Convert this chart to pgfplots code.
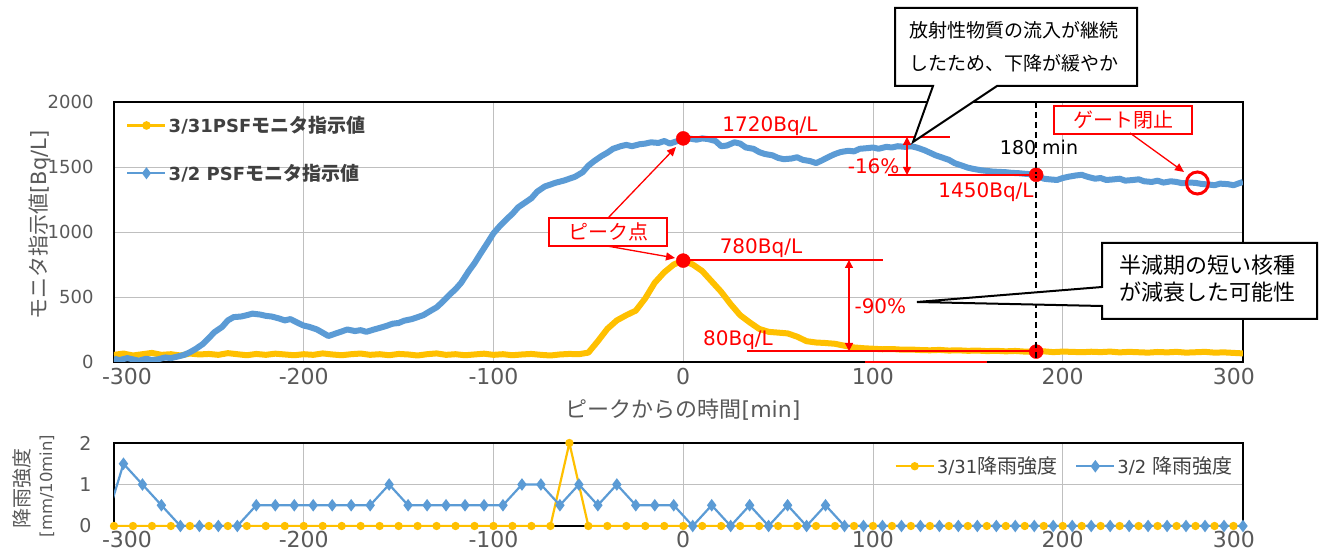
\documentclass[border=0pt]{standalone}
\usepackage{fontspec}
\setmainfont{DejaVu Sans}
\newfontfamily\jp{Noto Sans CJK JP}
\usepackage{pgfplots}
\pgfplotsset{compat=1.18}
\usetikzlibrary{arrows.meta}
\definecolor{yel}{HTML}{FFC000}
\definecolor{blu}{HTML}{5B9BD5}
\definecolor{tickc}{HTML}{595959}
\definecolor{legc}{HTML}{404040}
\definecolor{red0}{HTML}{FF0000}
\newcommand\fsz[1]{\fontsize{#1}{#1}\selectfont}
\pgfplotsset{legend image code/.code={\draw[mark repeat=2,mark phase=2,#1] plot coordinates {(0pt,0pt) (19pt,0pt) (38pt,0pt)};}}
\pgfplotsset{myax/.style={
  scale only axis, width=1129pt,
  xmin=-300, xmax=295,
  xtick={-300,-200,-100,0,100,200,295},
  xticklabels={\hspace*{26pt}-300,-200,-100,0,100,200,300\hspace*{18pt}},
  grid=major, major grid style={draw=gray!50, line width=0.8pt},
  major tick length=0pt,
  axis line style={line width=2.5pt, black},
  tick label style={text=tickc},
  /pgf/number format/assume math mode=true,
  /pgf/number format/1000 sep={},
}}
\begin{document}
\begin{tikzpicture}
\path[use as bounding box] (0,0) rectangle (1328pt,557pt);
% ---------------- top axis
\begin{axis}[myax, at={(114pt,195pt)}, anchor=south west, height=260pt,
  ymin=0, ymax=2000, ytick={0,500,1000,1500,2000},
  xticklabel style={font=\fsz{22}, yshift=-3pt},
  yticklabel style={font=\fsz{18}, xshift=-17pt},
  legend style={at={(0.008,0.96)}, anchor=north west, draw=none, fill=none,
    font=\bfseries\fsz{18}, text=legc, row sep=26pt, cells={anchor=west}},
]
\addlegendimage{yel, line width=2.5pt, mark=*, mark size=3pt}
\addlegendentry{3/31PSF{\jp\bfseries\fsz{19}モニタ指示値}}
\addlegendimage{blu, line width=2.5pt, mark=diamond*, mark size=4pt}
\addlegendentry{3/2 PSF{\jp\bfseries\fsz{19}モニタ指示値}}
\addplot[yel, line width=6pt, line join=round, forget plot] coordinates {
(-300,55) (-295,65) (-290,50) (-285,60) (-280,70) (-275,55) (-270,60) (-265,50) (-260,65) (-255,58)
(-250,62) (-245,55) (-240,68) (-235,60) (-230,52) (-225,62) (-220,55) (-215,64) (-210,58) (-205,52)
(-200,60) (-195,55) (-190,66) (-185,58) (-180,52) (-175,60) (-170,65) (-165,55) (-160,60) (-155,52)
(-150,62) (-145,58) (-140,50) (-135,60) (-130,66) (-125,55) (-120,60) (-115,52) (-110,58) (-105,64)
(-100,55) (-95,60) (-90,52) (-85,58) (-80,62) (-75,55) (-70,50) (-65,58) (-60,62) (-55,60)
(-50,72) (-45,160) (-40,255) (-35,320) (-30,360) (-25,395) (-20,490) (-15,610) (-10,690) (-5,750)
(0,780) (5,750) (10,700) (15,620) (20,540) (25,445) (30,360) (35,305) (40,255) (45,232)
(50,226) (55,220) (60,195) (65,160) (70,150) (75,146) (80,140) (85,125) (90,112) (95,106)
(100,102) (105,98) (110,100) (115,95) (120,96) (125,92) (130,90) (135,93) (140,88) (145,90)
(150,86) (155,88) (160,84) (165,86) (170,82) (175,85) (180,80) (185,78) (190,82) (195,76)
(200,80) (205,78) (210,75) (215,79) (220,76) (225,80) (230,74) (235,78) (240,75) (245,72)
(250,77) (255,74) (260,78) (265,72) (270,75) (275,78) (280,72) (285,74) (290,70) (295,66)};
\addplot[blu, line width=6pt, line join=round, forget plot] coordinates {
(-300,25) (-297,15) (-293,30) (-290,20) (-287,10) (-283,25) (-280,15) (-277,20) (-273,35) (-270,30)
(-267,40) (-263,55) (-260,75) (-257,100) (-253,140) (-250,185) (-247,230) (-243,270) (-240,320) (-237,345)
(-233,350) (-230,360) (-227,372) (-223,365) (-220,355) (-217,350) (-213,335) (-210,320) (-207,330) (-203,300)
(-200,280) (-197,270) (-193,250) (-190,225) (-187,200) (-184,215) (-180,235) (-177,250) (-173,238) (-170,245)
(-167,232) (-163,250) (-160,262) (-157,275) (-153,295) (-150,300) (-147,318) (-143,330) (-140,345) (-137,360)
(-133,395) (-130,420) (-127,460) (-123,520) (-120,560) (-117,610) (-113,700) (-110,760) (-107,830) (-103,920)
(-100,990) (-97,1040) (-93,1100) (-90,1140) (-87,1190) (-83,1230) (-80,1260) (-77,1310) (-73,1350) (-70,1365)
(-67,1380) (-63,1395) (-60,1410) (-57,1425) (-53,1460) (-50,1510) (-47,1545) (-43,1585) (-40,1610) (-37,1640)
(-33,1660) (-30,1670) (-27,1660) (-23,1675) (-20,1680) (-17,1690) (-13,1685) (-10,1700) (-7,1680) (-3,1700)
(0,1715) (3,1720) (7,1710) (10,1720) (13,1715) (17,1700) (20,1660) (23,1665) (27,1690) (30,1680)
(33,1650) (37,1640) (40,1615) (43,1600) (47,1590) (50,1570) (53,1560) (57,1565) (60,1575) (63,1555)
(67,1545) (70,1530) (73,1550) (77,1580) (80,1600) (83,1615) (87,1625) (90,1620) (93,1640) (97,1645)
(100,1650) (103,1640) (107,1655) (110,1650) (113,1660) (117,1655) (120,1660) (123,1650) (127,1630) (130,1610)
(133,1590) (137,1570) (140,1555) (143,1530) (147,1510) (150,1495) (153,1485) (157,1475) (160,1470) (163,1465)
(167,1462) (170,1460) (173,1455) (177,1452) (180,1448) (183,1445) (187,1430) (190,1410) (193,1405) (197,1400)
(200,1415) (203,1425) (207,1435) (210,1440) (213,1425) (217,1410) (220,1415) (223,1400) (227,1405) (230,1410)
(233,1395) (237,1400) (240,1405) (243,1390) (247,1385) (250,1395) (253,1380) (257,1390) (260,1385) (263,1375)
(267,1380) (270,1378) (273,1370) (277,1365) (280,1360) (283,1372) (287,1368) (290,1360) (293,1375) (295,1385)};
\addplot[only marks, mark=*, mark size=7pt, red0, forget plot] coordinates {(0,1720) (0,780) (186,1440) (186,80)};
\addplot[only marks, mark=o, mark size=11pt, red0, line width=3pt, forget plot] coordinates {(271,1377)};
\end{axis}
% ---------------- bottom axis
\begin{axis}[myax, at={(114pt,31pt)}, anchor=south west, height=83pt,
  ymin=0, ymax=2, ytick={0,1,2},
  xticklabel style={font=\fsz{22}, yshift=-2pt},
  yticklabel style={font=\fsz{19}, xshift=-19pt},
  legend style={at={(0.995,0.72)}, anchor=east, draw=none, fill=none, legend columns=2,
    font=\fsz{18}, text=legc, /tikz/every even column/.append style={column sep=16pt}},
]
\addplot[yel, line width=2.2pt, mark=*, mark size=3pt] coordinates {
(-300,0) (-290,0) (-280,0) (-270,0) (-260,0) (-250,0) (-240,0) (-230,0) (-220,0) (-210,0)
(-200,0) (-190,0) (-180,0) (-170,0) (-160,0) (-150,0) (-140,0) (-130,0) (-120,0) (-110,0)
(-100,0) (-90,0) (-80,0) (-70,0) (-60,2) (-50,0) (-40,0) (-30,0) (-20,0) (-10,0)
(0,0) (10,0) (20,0) (30,0) (40,0) (50,0) (60,0) (70,0) (80,0) (90,0)
(100,0) (110,0) (120,0) (130,0) (140,0) (150,0) (160,0) (170,0) (180,0) (190,0)
(200,0) (210,0) (220,0) (230,0) (240,0) (250,0) (260,0) (270,0) (280,0) (290,0)};
\addlegendentry{3/31{\jp\fsz{20}降雨強度}}
\addplot[blu, line width=2.2pt, mark=diamond*, mark size=4.5pt] coordinates {
(-305,0) (-295,1.5) (-285,1) (-275,0.5) (-265,0) (-255,0) (-245,0) (-235,0) (-225,0.5) (-215,0.5)
(-205,0.5) (-195,0.5) (-185,0.5) (-175,0.5) (-165,0.5) (-155,1) (-145,0.5) (-135,0.5) (-125,0.5) (-115,0.5)
(-105,0.5) (-95,0.5) (-85,1) (-75,1) (-65,0.5) (-55,1) (-45,0.5) (-35,1) (-25,0.5) (-15,0.5)
(-5,0.5) (5,0) (15,0.5) (25,0) (35,0.5) (45,0) (55,0.5) (65,0) (75,0.5) (85,0)
(95,0) (105,0) (115,0) (125,0) (135,0) (145,0) (155,0) (165,0) (175,0) (185,0)
(195,0) (205,0) (215,0) (225,0) (235,0) (245,0) (255,0) (265,0) (275,0) (285,0) (295,0)};
\addlegendentry{3/2 {\jp\fsz{20}降雨強度}}
\end{axis}
% ---------------- annotations (pixel frame)
\begin{scope}[x=1pt,y=-1pt,yshift=557pt]
\node[rotate=90, text=tickc, font=\fsz{21}] at (40,225) {{\jp モニタ指示値}[Bq/L]};
\node[text=tickc, font=\fsz{22}] at (683,410) {{\jp ピークからの時間}[min]};
\node[rotate=90, text=tickc, font=\jp\fsz{20}] at (22,489) {降雨強度};
\node[rotate=90, text=tickc, font=\fsz{16.5}] at (47,486) {[mm/10min]};
% dashed 180 min
\draw[black, line width=1.5pt, dash pattern=on 6pt off 4pt] (1036,102) -- (1036,362);
\node[font=\fsz{19}, text=black] at (1039,147) {180 min};
% red lines
\begin{scope}[red0, line width=1.3pt]
\draw (683,137) -- (950,137);
\draw (888,175) -- (1038,175);
\draw[{Triangle[length=8pt,width=8pt]}-{Triangle[length=8pt,width=8pt]}] (907,137) -- (907,175);
\draw (683,260) -- (883,260);
\draw (747,351) -- (1038,351);
\draw (865,362) -- (987,362);
\draw[{Triangle[length=8pt,width=8pt]}-{Triangle[length=8pt,width=8pt]}] (849,260) -- (849,351);
\draw[fill=white] (549,218) rectangle (667,246);
\draw[-{Triangle[length=9pt,width=8pt]}] (608,218) -- (676,147);
\draw[-{Triangle[length=9pt,width=8pt]}] (607,246) -- (675,258);
\draw[fill=white] (1054,106) rectangle (1192,134);
\draw[-{Triangle[length=9pt,width=8pt]}] (1130,133) -- (1184,172);
\end{scope}
\begin{scope}[text=red0, font=\fsz{20}]
\node at (770,126) {1720Bq/L};
\node[anchor=east] at (903,166) {-16\%};
\node at (986,192) {1450Bq/L};
\node at (761,248) {780Bq/L};
\node at (738,340) {80Bq/L};
\node[anchor=west] at (851,306) {-90\%};
\node[font=\jp\fsz{20}] at (608,232) {ピーク点};
\node[font=\jp\fsz{20}] at (1123,120) {ゲート閉止};
\end{scope}
% callouts
\draw[black, line width=2pt, fill=white, line join=miter]
  (895,8) -- (1137,8) -- (1137,86) -- (997,86) -- (913,142) -- (933,86) -- (895,86) -- cycle;
\node[anchor=west, font=\jp\fsz{19}] at (906,30) {放射性物質の流入が継続};
\node[anchor=west, font=\jp\fsz{19}] at (906,63) {したため、下降が緩やか};
\draw[black, line width=2pt, fill=white, line join=miter]
  (1102,243) -- (1317,243) -- (1317,319) -- (1102,319) -- (1102,306) -- (917,302) -- (1102,287) -- cycle;
\node[anchor=west, font=\jp\fsz{22}] at (1116,265) {半減期の短い核種};
\node[anchor=west, font=\jp\fsz{22}] at (1116,292) {が減衰した可能性};
\end{scope}
\end{tikzpicture}
\end{document}
